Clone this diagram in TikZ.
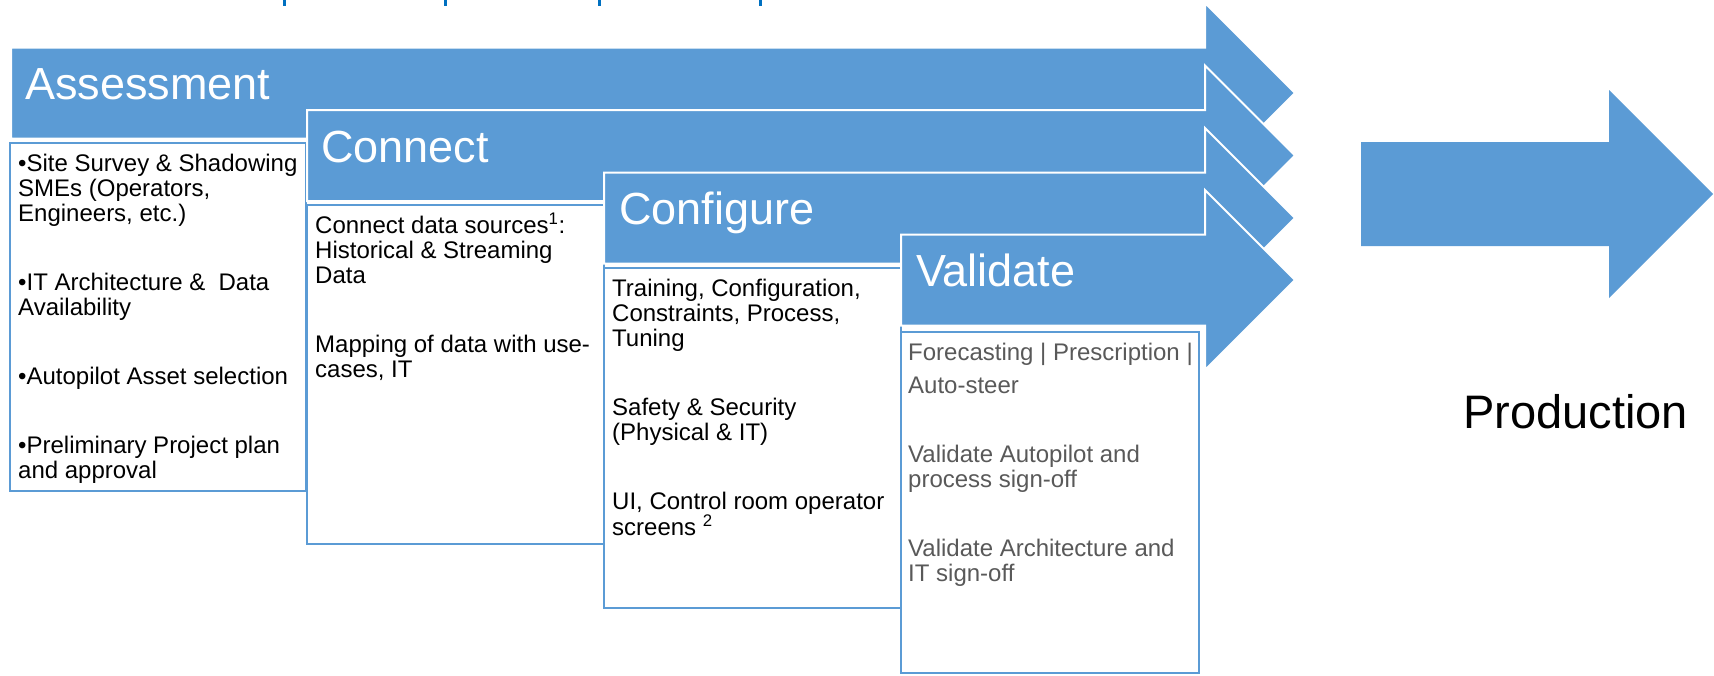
\documentclass[tikz,border=0pt]{standalone}
\usepackage{fontspec}
\setmainfont{Liberation Sans}
\usepackage{xcolor}
\usepackage{tikz}
\definecolor{bandblue}{HTML}{5B9BD5}
\definecolor{notegray}{HTML}{595959}
\definecolor{headblue}{HTML}{0070C0}

\begin{document}
\begin{tikzpicture}[x=1pt,y=-1pt,
  band/.style={fill=bandblue,draw=white,line width=2pt,line join=miter},
  stagebox/.style={draw=bandblue,fill=white,line width=2.5pt},
  title/.style={anchor=base west,inner sep=0pt,text=white,font=\fontsize{45}{54}\selectfont},
  body/.style={anchor=north west,inner sep=0pt,align=left,font=\fontsize{24}{25}\selectfont}]

\useasboundingbox (0,0) rectangle (1714,675);

% cut heading at the top
\fill[headblue] (282.5,0) rectangle (285.5,5.5);
\fill[headblue] (443.5,0) rectangle (446.5,5.5);
\fill[headblue] (598,0) rectangle (601,5.5);
\fill[headblue] (758.5,0) rectangle (761.5,5.5);

% Assessment (text nodes hang 22pt above the first baseline)
\draw[band] (11,47.5) -- (1205,47.5) -- (1205,3) -- (1295,93) -- (1205,183) -- (1205,138.5) -- (11,138.5) -- cycle;
\node[title] (assess) at (25,99.5) {Assessment};
\draw[stagebox] (10,143) rectangle (306,491);
\node[body] (assesstext) at (18,149) {\rule{0pt}{22pt}•Site Survey \& Shadowing\\SMEs (Operators,\\Engineers, etc.)\\[44pt]
  •IT Architecture \&\ \ Data\\Availability\\[44pt]
  •Autopilot Asset selection\\[44pt]
  •Preliminary Project plan\\and approval};

% Connect
\draw[band] (307,110) -- (1205,110) -- (1205,65.5) -- (1295,155.5) -- (1205,245.5) -- (1205,201) -- (307,201) -- cycle;
\node[title] (connect) at (321,162) {Connect};
\draw[stagebox] (307,205) rectangle (604,544);
\node[body] (connecttext) at (315,211) {\rule{0pt}{22pt}Connect data sources\textsuperscript{1}:\\Historical \& Streaming\\Data\\[44pt]
  Mapping of data with use-\\cases, IT};

% Configure
\draw[band] (604,172.5) -- (1205,172.5) -- (1205,128) -- (1295,218) -- (1205,308) -- (1205,263.5) -- (604,263.5) -- cycle;
\node[title] (configure) at (619,224.5) {Configure};
\draw[stagebox] (604,268) rectangle (901,608);
\node[body] (configuretext) at (612,274) {\rule{0pt}{22pt}Training, Configuration,\\Constraints, Process,\\Tuning\\[44pt]
  Safety \& Security\\(Physical \& IT)\\[44pt]
  UI, Control room operator\\screens \textsuperscript{2}};

% Validate
\draw[band] (901,234.5) -- (1205,234.5) -- (1205,190) -- (1295,280) -- (1205,370) -- (1205,325.5) -- (901,325.5) -- cycle;
\node[title] (validate) at (916,286.5) {Validate};
\draw[stagebox] (901,332) rectangle (1199,673);
\node[body,text=notegray] (validatetext) at (908,338) {\rule{0pt}{22pt}Forecasting | Prescription |\\[8pt]Auto-steer\\[44pt]
  Validate Autopilot and\\process sign-off\\[44pt]
  Validate Architecture and\\IT sign-off};

% Production
\fill[bandblue] (1361,142) -- (1609,142) -- (1609,90) -- (1713,194) -- (1609,298) -- (1609,246) -- (1361,246) -- cycle;
\node[anchor=base west,inner sep=0pt,font=\fontsize{47}{56}\selectfont] (prod) at (1463,428) {Production};
\end{tikzpicture}
\end{document}
